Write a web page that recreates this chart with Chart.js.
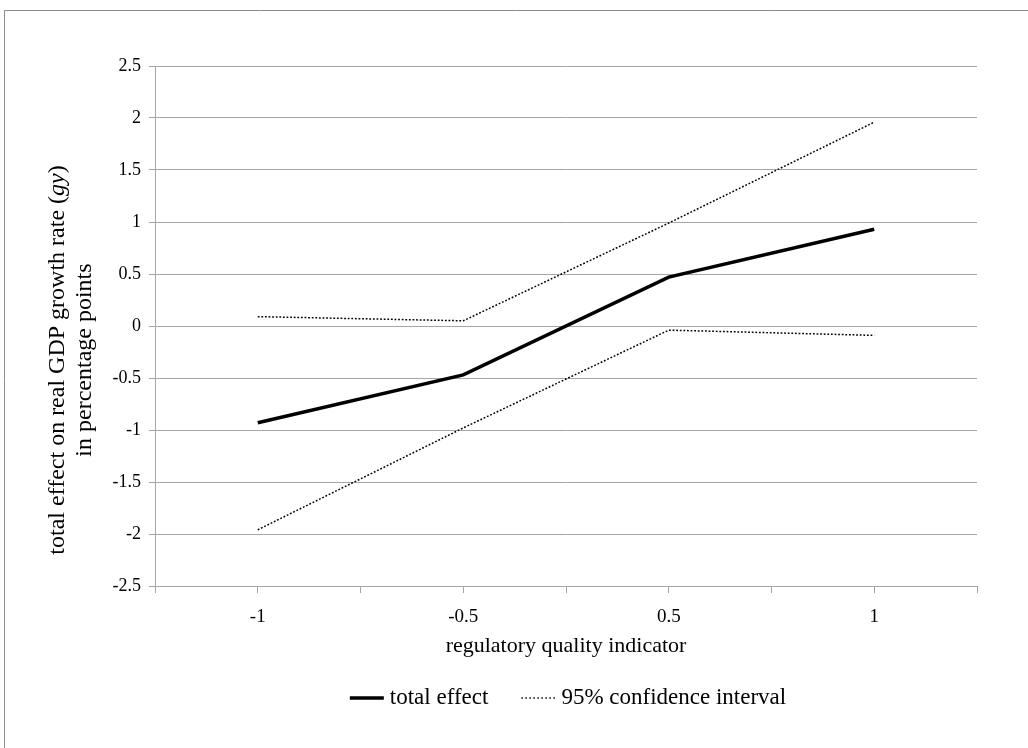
<!DOCTYPE html>
<html>
<head>
<meta charset="utf-8">
<script src="https://cdn.jsdelivr.net/npm/chart.js@4/dist/chart.umd.min.js"></script>
<style>
  html, body { margin: 0; padding: 0; background: #fff; }
  #wrap { width: 1028px; height: 748px; }
</style>
</head>
<body>
<div id="wrap"><canvas id="myChart" width="1028" height="748"></canvas></div>
<script>
// category labels on the x axis
var categories = ["-1", "-0.5", "0.5", "1"];
// series
var totalEffect = [-0.93, -0.47, 0.47, 0.93];
var upperCI = [0.09, 0.05, 0.99, 1.96];
var lowerCI = [-1.96, -0.98, -0.04, -0.09];
var yTicks = [-2.5, -2, -1.5, -1, -0.5, 0, 0.5, 1, 1.5, 2, 2.5];
var legendNames = ["total effect", "95% confidence interval"];

var FONT = "'Liberation Serif', 'Times New Roman', serif";
var GRID = "#a6a6a6";

function toPoints(arr) {
  return arr.map(function (v, i) { return { x: i, y: v }; });
}

// frame, rotated y title (italic "gy") and the legend
var decor = {
  id: "decor",
  beforeDraw: function (chart) {
    var ctx = chart.ctx;
    ctx.save();
    ctx.fillStyle = "#fff";
    ctx.fillRect(0, 0, chart.width, chart.height);
    ctx.strokeStyle = "#8c8c8c";
    ctx.lineWidth = 1;
    ctx.beginPath();
    ctx.moveTo(4.5, chart.height);
    ctx.lineTo(4.5, 10.5);
    ctx.lineTo(chart.width, 10.5);
    ctx.stroke();
    ctx.restore();
  },
  afterDraw: function (chart) {
    var ctx = chart.ctx;
    var cy = 360;
    ctx.save();
    ctx.fillStyle = "#000";
    ctx.textBaseline = "middle";
    var parts = [
      { t: "total effect on real GDP growth rate (", f: "24px " + FONT },
      { t: "gy", f: "italic 24px " + FONT },
      { t: ")", f: "24px " + FONT }
    ];
    var w = 0;
    parts.forEach(function (p) { ctx.font = p.f; p.w = ctx.measureText(p.t).width; w += p.w; });
    ctx.translate(58, cy);
    ctx.rotate(-Math.PI / 2);
    var x = -w / 2;
    ctx.textAlign = "left";
    parts.forEach(function (p) { ctx.font = p.f; ctx.fillText(p.t, x, 0); x += p.w; });
    ctx.restore();

    ctx.save();
    ctx.fillStyle = "#000";
    ctx.textBaseline = "middle";
    ctx.textAlign = "center";
    ctx.font = "24px " + FONT;
    ctx.translate(85, cy);
    ctx.rotate(-Math.PI / 2);
    ctx.fillText("in percentage points", 0, 0);
    ctx.restore();

    // legend
    ctx.save();
    ctx.font = "23px " + FONT;
    ctx.textBaseline = "middle";
    ctx.textAlign = "left";
    ctx.fillStyle = "#000";
    var sw = 34, gap = 6, itemGap = 33, ly = 698;
    var widths = legendNames.map(function (n) { return ctx.measureText(n).width; });
    var total = widths.reduce(function (a, b) { return a + b; }, 0) + 2 * (sw + gap) + itemGap;
    var area = chart.chartArea;
    var lx = (area.left + area.right) / 2 + 2 - total / 2;
    legendNames.forEach(function (n, i) {
      var ds = chart.data.datasets[i];
      ctx.save();
      ctx.strokeStyle = ds.borderColor;
      ctx.lineWidth = ds.borderWidth;
      ctx.setLineDash(i === 0 ? [] : [1.5, 2.5]);
      ctx.beginPath();
      ctx.moveTo(lx, ly);
      ctx.lineTo(lx + sw, ly);
      ctx.stroke();
      ctx.restore();
      ctx.fillText(n, lx + sw + gap, ly);
      lx += sw + gap + widths[i] + itemGap;
    });
    ctx.restore();
  }
};

var ctx = document.getElementById("myChart").getContext("2d");
var myChart = new Chart(ctx, {
  type: "line",
  data: {
    datasets: [
      {
        label: legendNames[0],
        data: toPoints(totalEffect),
        borderColor: "#000",
        borderWidth: 3.5,
        pointRadius: 0,
        tension: 0,
        fill: false
      },
      {
        label: legendNames[1],
        data: toPoints(upperCI),
        borderColor: "#000",
        borderWidth: 1.5,
        borderDash: [1.8, 1.8],
        pointRadius: 0,
        tension: 0,
        fill: false
      },
      {
        label: "lower",
        data: toPoints(lowerCI),
        borderColor: "#000",
        borderWidth: 1.5,
        borderDash: [1.8, 1.8],
        pointRadius: 0,
        tension: 0,
        fill: false
      }
    ]
  },
  options: {
    responsive: false,
    animation: false,
    layout: { padding: { left: 0, right: 51, top: 66, bottom: 89 } },
    plugins: {
      tooltip: { enabled: false },
      legend: { display: false }
    },
    scales: {
      x: {
        type: "linear",
        min: -0.5,
        max: 3.5,
        afterFit: function (scale) { scale.height = 73; },
        grid: {
          drawOnChartArea: false,
          drawTicks: true,
          tickLength: 7,
          color: GRID
        },
        border: { color: GRID, width: 1 },
        ticks: {
          stepSize: 0.5,
          autoSkip: false,
          maxRotation: 0,
          color: "#000",
          font: { family: FONT, size: 19 },
          padding: 13,
          callback: function (v) {
            return Number.isInteger(v) ? categories[v] : "";
          }
        },
        title: {
          display: true,
          text: "regulatory quality indicator",
          color: "#000",
          font: { family: FONT, size: 22 },
          padding: { top: 4, bottom: 0 }
        }
      },
      y: {
        min: yTicks[0],
        max: yTicks[yTicks.length - 1],
        afterFit: function (scale) { scale.width = 155; },
        grid: {
          color: GRID,
          drawTicks: true,
          tickLength: 6
        },
        border: { color: GRID, width: 1 },
        ticks: {
          stepSize: 0.5,
          color: "#000",
          font: { family: FONT, size: 18 },
          padding: 8,
          callback: function (v) { return String(v); }
        }
      }
    }
  },
  plugins: [decor]
});
</script>
</body>
</html>
